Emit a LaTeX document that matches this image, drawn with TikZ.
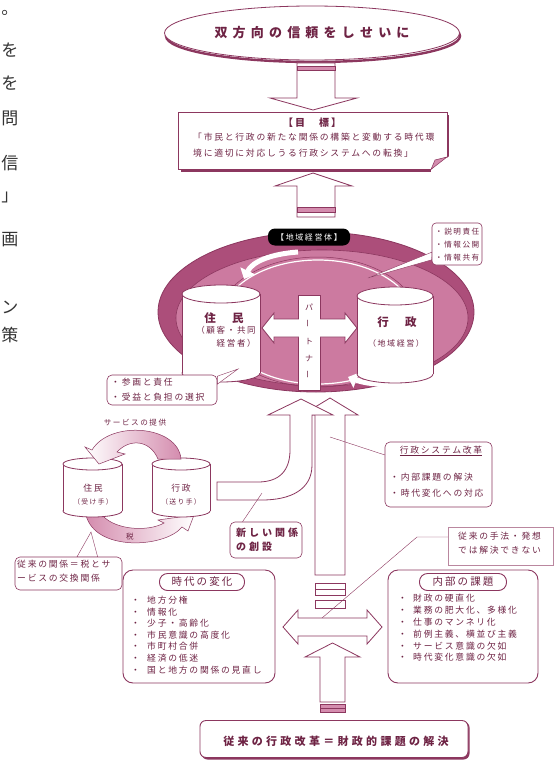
\documentclass[tikz,border=0pt]{standalone}
\usepackage{fontspec}
\setmainfont[LetterSpace=20]{Noto Sans CJK JP}
\newfontfamily\edgefont{Noto Sans CJK JP}
\usetikzlibrary{shapes.geometric,arrows.meta,positioning}

\definecolor{rimred}{RGB}{140,55,95}
\definecolor{inkred}{RGB}{110,35,68}
\definecolor{diskdark}{RGB}{172,78,122}
\definecolor{disklight}{RGB}{204,122,160}
\definecolor{softpink}{RGB}{212,140,174}

\tikzset{
  txt/.style={text=inkred, inner sep=0pt, font=\fontsize{8.8}{11.6}\selectfont},
  smalltxt/.style={text=inkred, inner sep=0pt, font=\fontsize{7.6}{13}\selectfont},
  boldtxt/.style={text=inkred, inner sep=0pt, font=\fontsize{10}{13}\selectfont\bfseries},
  edgechar/.style={text=black!80, inner sep=0pt, font=\edgefont\fontsize{17}{17}\selectfont},
  notebox/.style={draw=rimred, fill=white, rounded corners=5pt, line width=0.6pt, inner sep=0pt},
  hollow/.style={draw=rimred, fill=white, line width=0.8pt},
  band/.style={draw=rimred, fill=softpink, line width=0.5pt},
  pointer/.style={draw=rimred, line width=0.4pt},
  wedge/.style={draw=rimred, fill=white, line width=0.4pt},
  pill/.style={draw=rimred, fill=white, rounded corners=8pt, line width=0.9pt, minimum height=17pt,
               inner sep=0pt, text=inkred, font=\fontsize{10.5}{12}\selectfont},
}

% drum: left x, right x, top y, bottom y, rim radius
\newcommand{\drum}[5]{%
  \filldraw[draw=rimred, fill=white, line width=0.8pt]
    ({(#1+#2)/2},{#4-#5}) ellipse[x radius={(#2-#1)/2}, y radius=#5];
  \fill[white] (#1,{#3+#5}) rectangle (#2,{#4-#5});
  \draw[rimred, line width=0.8pt] (#1,{#3+#5}) -- (#1,{#4-#5}) (#2,{#3+#5}) -- (#2,{#4-#5});
  \filldraw[draw=rimred, fill=white, line width=0.8pt]
    ({(#1+#2)/2},{#3+#5}) ellipse[x radius={(#2-#1)/2}, y radius=#5];
}

\begin{document}
\begin{tikzpicture}[x=1pt,y=-1pt]
  \useasboundingbox (0,0) rectangle (555,760);
  \fill[white] (0,0) rectangle (555,760);

  % page text cut at the left edge
  \foreach \ch/\yy in {。/13,を/50,を/83,問/118,信/163,」/197,画/240,ン/307,策/335}
    \node[edgechar] (edge\yy) at (10,\yy) {\ch};

  % aim and goal
  \draw[rimred, line width=2.4pt] (313,36) ellipse[x radius=147, y radius=26];
  \node[ellipse, draw=rimred, fill=white, line width=0.8pt, minimum width=295pt, minimum height=54pt,
        text=inkred, font={\fontsize{13}{15}\selectfont\bfseries\addfontfeatures{LetterSpace=40}}]
        (trust) at (312,33) {双方向の信頼をしせいに};
  \filldraw[hollow] (297,63) -- (297,98) -- (270,98) -- (313,110) -- (357,98) -- (335,98) -- (335,63) -- cycle;
  \filldraw[band] (297,66) rectangle (335,70);

  \fill[rimred] (181,115) rectangle (449,172);
  \node[draw=rimred, fill=white, line width=0.8pt, minimum width=269pt, minimum height=57pt, inner sep=0pt]
        (goal) at (312.5,140.5) {};
  \fill[white] (431,169.6) -- (449.6,156) -- (449.6,173) -- (431,173) -- cycle;
  \filldraw[band] (431,169.4) -- (435,160) -- (447,157) -- cycle;
  \node[boldtxt] (goalhead) at (312,123) {【目　標】};
  \node[txt, align=left, anchor=west, font=\fontsize{8.8}{16}\selectfont]
        (goaltext) at (193,145) {「市民と行政の新たな関係の構築と変動する時代環\\境に適切に対応しうる行政システムへの転換」};

  \filldraw[hollow] (297,217) -- (297,186) -- (275,186) -- (313,173) -- (352,186) -- (335,186) -- (335,217) -- cycle;
  \filldraw[band] (297,207) rectangle (335,212);

  % regional management disk
  \filldraw[draw=rimred, fill=diskdark, line width=0.8pt] (316,312) ellipse[x radius=158, y radius=80];
  \filldraw[draw=rimred, fill=disklight, line width=0.6pt] (322,318) ellipse[x radius=146, y radius=68];
  \draw[white, line width=1.2pt] (318,322) ellipse[x radius=98, y radius=62];
  \draw[rimred, line width=0.5pt] (318,322) ellipse[x radius=101, y radius=65];
  \draw[white, line width=5pt, -{Triangle[length=9pt, width=16pt]}]
        (298,252) .. controls (270,254) and (252,262) .. (244,279);
  \draw[white, line width=5pt, -{Triangle[length=9pt, width=16pt]}]
        (404,381) .. controls (386,386) and (366,384) .. (348,377);
  \node[fill=black, rounded corners=7pt, minimum width=82pt, minimum height=17pt, inner sep=0pt,
        text=white, font=\fontsize{8}{10}\selectfont] (region) at (309,237) {【地域経営体】};

  \drum{182}{260}{285}{382}{9}
  \drum{357}{433}{287}{383}{9}
  \node[boldtxt, font=\fontsize{11.5}{13}\selectfont\bfseries] (resident) at (224,318) {住　民};
  \node[txt, align=right, font=\fontsize{8.5}{13}\selectfont] (residentrole) at (226,337) {（顧客・共同\\経営者）};
  \node[boldtxt, font=\fontsize{11.5}{13}\selectfont\bfseries] (admin) at (397,322) {行　政};
  \node[txt, font=\fontsize{8}{10}\selectfont] (adminrole) at (396,343) {（地域経営）};

  \filldraw[hollow] (298,295) rectangle (320,390);
  \filldraw[hollow] (262,328) -- (274,313) -- (274,319) -- (345,319) -- (345,313) -- (357,328)
        -- (345,343) -- (345,337) -- (274,337) -- (274,343) -- cycle;
  \fill[white] (297.3,319.6) rectangle (320.7,336.4);
  \fill[white] (298.5,318.3) rectangle (319.5,337.7);
  \node[txt, align=center, font=\fontsize{8}{17}\selectfont]
        (partner) at (309,341) {パ\\\rotatebox{90}{ー}\\ト\\ナ\\\rotatebox{90}{ー}};

  % notes round the disk
  \node[notebox, rounded corners=4pt, minimum width=50pt, minimum height=42pt] (openbox) at (457,244) {};
  \node[smalltxt, align=left, anchor=west] (opentext) at (435,245) {・説明責任\\・情報公開\\・情報共有};
  \coordinate (opentip) at (368,278);
  \filldraw[wedge] (openbox.198) -- (opentip) -- (openbox.212) -- cycle;

  \node[notebox, minimum width=110pt, minimum height=30pt] (sharebox) at (162,390) {};
  \node[txt, align=left, anchor=west, font=\fontsize{8.8}{15}\selectfont]
        (sharetext) at (111,390) {・参画と責任\\・受益と負担の選択};
  \coordinate (sharetip) at (238,369);
  \filldraw[wedge] (sharebox.14) -- (sharetip) -- (sharebox.6) -- cycle;

  % arrows up to the disk
  \filldraw[hollow] (315,575) -- (315,415) -- (302,415) -- (330,398) -- (358,415) -- (345,415) -- (345,575) -- cycle;
  \filldraw[hollow] (315,583) rectangle (345,595);
  \draw[rimred, line width=0.6pt] (315,589) -- (345,589);
  \filldraw[hollow] (315,600) rectangle (345,608);
  \filldraw[hollow] (217,482) -- (258,482) .. controls (280,482) and (290,470) .. (290,450) -- (290,415)
        -- (268,415) -- (301,399) -- (333,415) -- (312,415) -- (312,465)
        .. controls (312,490) and (290,500) .. (262,500) -- (217,500) -- cycle;

  % former relation
  \node[smalltxt] (service) at (135,423) {サービスの提供};
  \shadedraw[left color=softpink, right color=white, draw=rimred, line width=0.5pt]
    (86,515) .. controls (95,552) and (165,548) .. (182,527) -- (188,531) -- (194,515) -- (158,520) -- (164,523)
    .. controls (148,532) and (116,530) .. (103,516) -- cycle;
  \drum{63}{122}{458}{517}{6}
  \drum{152}{210}{458}{517}{6}
  \shadedraw[left color=white, right color=softpink, draw=rimred, line width=0.5pt]
    (181,459) .. controls (178,425) and (110,420) .. (92,450) -- (85,447) -- (99,464) -- (125,454) -- (117,452)
    .. controls (130,438) and (150,440) .. (158,459) -- cycle;
  \node[txt] (citizen) at (93,488) {住民};
  \node[txt, font=\fontsize{6.8}{8}\selectfont] (citizenrole) at (93,502) {（受け手）};
  \node[txt] (office) at (181,488) {行政};
  \node[txt, font=\fontsize{6.8}{8}\selectfont] (officerole) at (181,502) {（送り手）};
  \node[smalltxt] (tax) at (130,537) {税};

  \node[notebox, minimum width=107pt, minimum height=33pt] (oldbox) at (68.5,573.5) {};
  \node[txt, align=left, anchor=west, font=\fontsize{8.8}{14}\selectfont]
        (oldtext) at (17,571) {従来の関係＝税とサ\\ービスの交換関係};
  \coordinate (oldtip) at (91,532);
  \filldraw[wedge] (oldbox.63) -- (oldtip) -- (oldbox.30) -- cycle;

  % new relation and reform notes
  \node[notebox, minimum width=72pt, minimum height=36pt] (newbox) at (266,540) {};
  \node[txt, align=left, anchor=west, font={\fontsize{10}{14}\selectfont\bfseries\addfontfeatures{LetterSpace=30}}]
        (newtext) at (236,540) {新しい関係\\の創設};
  \coordinate (newtip) at (262,493);
  \draw[pointer] (newbox.142) -- (newtip);

  \node[notebox, minimum width=107pt, minimum height=65pt] (reformbox) at (438.5,474.5) {};
  \node[txt] (reformhead) at (441,451) {\underline{行政システム改革}};
  \node[txt, align=left, anchor=west, font=\fontsize{8.8}{16}\selectfont]
        (reformtext) at (390,485) {・内部課題の解決\\・時代変化への対応};
  \coordinate (reformtip) at (330,437);
  \draw[pointer] (reformbox.160) -- (reformtip);

  \node[draw=rimred!60, fill=white, line width=0.5pt, minimum width=105pt, minimum height=38pt, inner sep=0pt]
        (methodbox) at (500.5,546) {};
  \node[txt, align=left, anchor=west, font=\fontsize{8.8}{13.5}\selectfont]
        (methodtext) at (458,543) {従来の手法・発想\\では解決できない};
  \coordinate (methodbend) at (417,537);
  \coordinate (methodtip) at (322,618);
  \draw[pointer] (methodbox.west |- methodbend) -- (methodbend) -- (methodtip);

  % changes of the times and inner problems
  \node[notebox, rounded corners=10pt, line width=0.9pt, minimum width=152pt, minimum height=113pt]
        (erabox) at (199,626.5) {};
  \node[pill, minimum width=85pt] (eratitle) at (202,582) {時代の変化};
  \node[txt, align=left, anchor=west] (eralist) at (131,635) {%
    \makebox[16pt][l]{・}地方分権\\\makebox[16pt][l]{・}情報化\\\makebox[16pt][l]{・}少子・高齢化\\
    \makebox[16pt][l]{・}市民意識の高度化\\\makebox[16pt][l]{・}市町村合併\\\makebox[16pt][l]{・}経済の低迷\\
    \makebox[16pt][l]{・}国と地方の関係の見直し};

  \node[notebox, rounded corners=10pt, line width=0.9pt, minimum width=150pt, minimum height=113pt]
        (innerbox) at (463,626.5) {};
  \node[pill, minimum width=87pt] (innertitle) at (463,582) {内部の課題};
  \node[txt, align=left, anchor=west, font=\fontsize{8.8}{11.8}\selectfont] (innerlist) at (398,628) {%
    \makebox[15pt][l]{・}財政の硬直化\\\makebox[15pt][l]{・}業務の肥大化、多様化\\\makebox[15pt][l]{・}仕事のマンネリ化\\
    \makebox[15pt][l]{・}前例主義、横並び主義\\\makebox[15pt][l]{・}サービス意識の欠如\\\makebox[15pt][l]{・}時代変化意識の欠如};

  \filldraw[hollow] (283,627) -- (298,610) -- (298,618) -- (367,618) -- (367,610) -- (382,627)
        -- (367,644) -- (367,636) -- (298,636) -- (298,644) -- cycle;

  % former reform
  \filldraw[hollow] (320,702) -- (320,657) -- (305,657) -- (332.5,643) -- (360,657) -- (345,657) -- (345,702) -- cycle;
  \filldraw[band] (320,704) rectangle (345,712);
  \draw[rimred, line width=0.5pt] (320,708) -- (345,708);
  \fill[rimred, rounded corners=6pt] (201.5,721.5) rectangle (469.5,759.5);
  \node[draw=rimred, fill=white, rounded corners=6pt, line width=0.9pt, minimum width=268pt, minimum height=37pt,
        inner sep=0pt] (oldreform) at (334,739) {};
  \node[boldtxt, font={\fontsize{11}{13}\selectfont\bfseries\addfontfeatures{LetterSpace=30}}]
        (oldreformtext) at (336,741) {従来の行政改革＝財政的課題の解決};
\end{tikzpicture}
\end{document}
